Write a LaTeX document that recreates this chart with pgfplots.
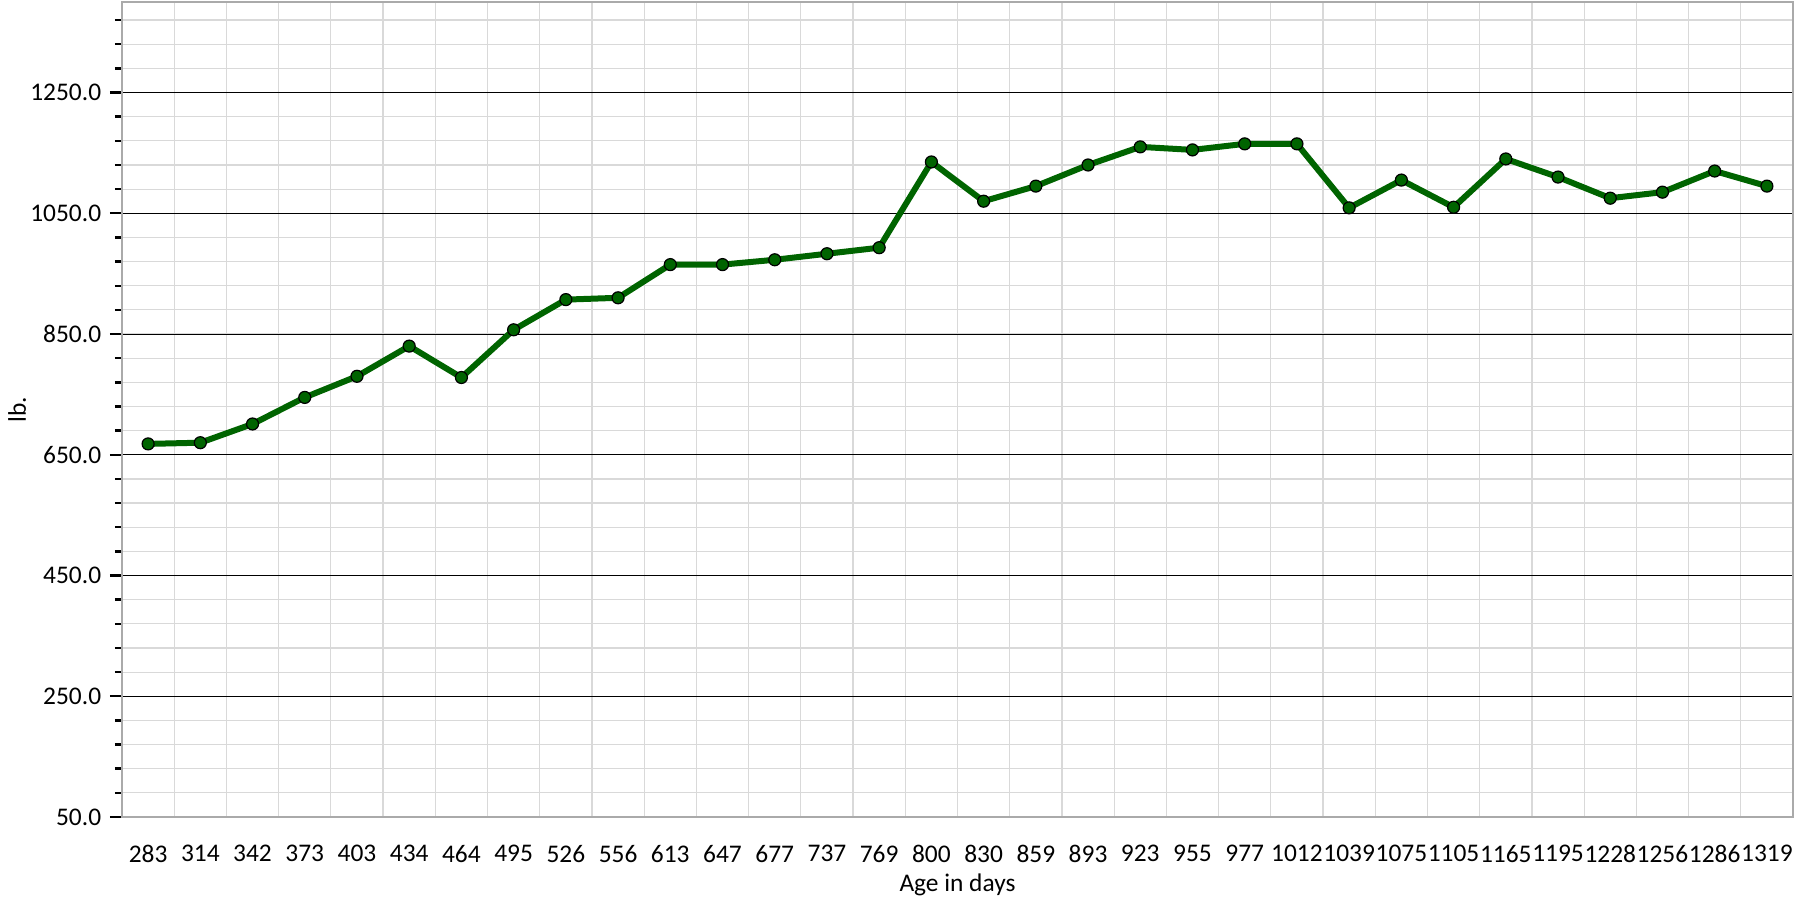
\documentclass[border=0pt]{standalone}
\usepackage{pgfplots}
\pgfplotsset{compat=1.18}
\usepackage{fontspec}
\setmainfont{Carlito}
\definecolor{lineg}{RGB}{0,100,0}
\definecolor{gridl}{RGB}{217,217,217}
\definecolor{frameg}{RGB}{170,170,170}
\begin{document}
\begin{tikzpicture}
\fontsize{12.7}{15}\selectfont
\begin{axis}[
  scale only axis,
  width=835.5pt, height=407.5pt,
  xmin=-0.5, xmax=31.5,
  ymin=50, ymax=1400,
  xtick={0,1,...,31},
  xticklabels={283,314,342,373,403,434,464,495,526,556,613,647,677,737,769,800,830,859,893,923,955,977,1012,1039,1075,1105,1165,1195,1228,1256,1286,1319},
  minor xtick={-0.5,0.5,...,31.5},
  ytick={50,250,450,650,850,1050,1250},
  minor ytick={90,130,...,1370},
  grid=both,
  major x grid style={draw=none},
  minor x grid style={gridl, line width=0.6pt},
  major y grid style={black, line width=0.5pt},
  minor y grid style={gridl, line width=0.6pt},
  every major x tick/.style={draw=none},
  every minor x tick/.style={draw=none},
  ytick pos=left,
  tick align=outside,
  major tick length=6pt,
  minor tick length=3.5pt,
  every major y tick/.style={black, line width=1.2pt},
  every minor y tick/.style={black, line width=1.2pt},
  axis line style={frameg, line width=1pt},
  yticklabel style={/pgf/number format/.cd, fixed, fixed zerofill, precision=1, 1000 sep={}},
  /pgf/number format/assume math mode=true,
  xticklabel style={yshift=-8pt, inner sep=0pt},
  xlabel={Age in days},
  ylabel={lb.},
  xlabel style={at={(axis description cs:0.5,0)}, anchor=center, yshift=-34pt},
  ylabel style={at={(axis description cs:-0.0628,0.5)}, anchor=center},
]
\addplot[lineg, line width=3pt, mark=*, mark size=3pt,
  mark options={fill=lineg, draw=black, line width=0.6pt}]
coordinates {
(0,668) (1,670) (2,701) (3,745) (4,780) (5,830) (6,778) (7,857)
(8,907) (9,910) (10,965) (11,965) (12,973) (13,983) (14,993) (15,1135)
(16,1070) (17,1095) (18,1130) (19,1160) (20,1155) (21,1165) (22,1165) (23,1059)
(24,1105) (25,1060) (26,1140) (27,1110) (28,1075) (29,1085) (30,1120) (31,1095)
};
\end{axis}
\pgfresetboundingbox
\path (-61pt,-40.5pt) rectangle (838pt,408.5pt);
\end{tikzpicture}
\end{document}
